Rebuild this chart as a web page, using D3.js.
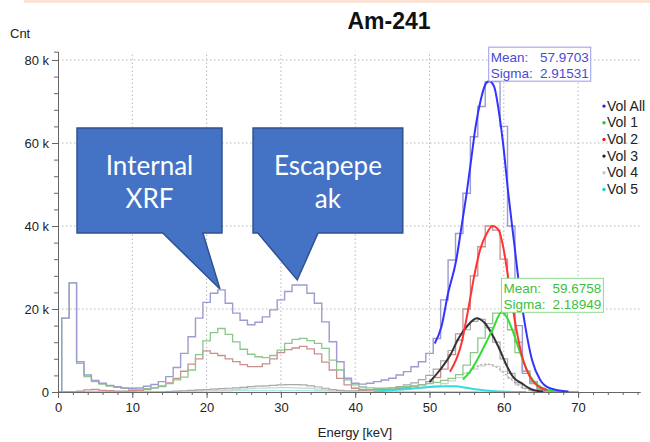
<!DOCTYPE html>
<html>
<head>
<meta charset="utf-8">
<script src="https://cdn.jsdelivr.net/npm/d3@7"></script>
<style>
  body { margin: 0; background: #fff; }
  svg { display: block; font-family: "Liberation Sans", Arial, sans-serif; }
</style>
</head>
<body>
<div class="chart"></div>
<script>
const width = 650;
const height = 442;

// bin centres in keV (1 keV bins), counts in thousands
const binCenters = d3.range(0, 71);

const volAllHist = [0, 17.8, 26.3, 7.3, 4.1, 2.8, 2.1, 1.6, 1.3, 1.0,
  0.9, 1.0, 1.4, 1.8, 2.5, 3.7, 5.9, 9.3, 13.3, 17.8,
  21.6, 23.8, 24.6, 21.4, 19.0, 17.3, 16.2, 16.8, 18.1, 19.8,
  22.2, 24.2, 25.8, 25.8, 23.8, 21.4, 16.9, 12.1, 7.3, 3.3,
  2.1, 1.9, 2.1, 2.5, 2.9, 3.3, 4.1, 4.9, 6.1, 7.3,
  9.3, 12.9, 22.2, 31.8, 38.2, 47.9, 61.5, 68.8, 74.8, 74.8,
  64.0, 40.0, 16.0, 4.5, 2.5, 0.5, 0.2, 0.1, 0, 0, 0];

const vol1Hist = [0, 17.8, 26.3, 6.9, 3.7, 2.5, 1.9, 1.4, 1.1, 0.9,
  0.7, 0.7, 0.8, 1.0, 1.3, 2.0, 2.9, 3.6, 5.3, 9.0,
  12.3, 14.3, 15.3, 13.9, 12.1, 10.3, 9.1, 8.5, 8.3, 8.8,
  10.1, 11.7, 12.7, 12.9, 12.4, 11.7, 10.5, 7.7, 5.3, 2.9,
  1.7, 1.2, 1.0, 0.9, 0.9, 1.0, 1.1, 1.3, 1.5, 1.7,
  2.0, 2.3, 2.8, 3.3, 4.2, 6.5, 9.5, 13.0, 16.5, 19.0,
  19.0, 15.0, 9.5, 5.0, 2.2, 0.9, 0.3, 0.1, 0, 0, 0];

const vol2Hist = [0, 0, 0, 0.2, 0.5, 0.6, 0.4, 0.3, 0.2, 0.2,
  0.3, 0.4, 0.6, 1.0, 1.5, 2.2, 3.3, 5.0, 6.7, 8.0,
  9.9, 9.3, 8.8, 8.0, 7.3, 6.6, 6.1, 6.1, 6.8, 8.0,
  9.5, 10.2, 10.6, 11.0, 10.4, 9.2, 7.2, 5.3, 3.3, 1.7,
  0.9, 0.6, 0.5, 0.5, 0.6, 0.7, 0.9, 1.1, 1.4, 1.8,
  2.5, 3.5, 5.5, 9.0, 14.0, 20.0, 28.0, 35.0, 40.0, 39.0,
  32.0, 22.0, 12.0, 5.0, 2.0, 0.7, 0.2, 0, 0, 0, 0];

const vol3Hist = [0, 0, 0, 0, 0, 0, 0, 0, 0, 0,
  0, 0, 0, 0, 0, 0.1, 0.2, 0.3, 0.4, 0.5,
  0.6, 0.7, 0.8, 0.9, 1.0, 1.1, 1.3, 1.4, 1.5, 1.6,
  1.7, 1.8, 1.8, 1.7, 1.5, 1.2, 0.9, 0.6, 0.4, 0.3,
  0.3, 0.4, 0.5, 0.6, 0.8, 1.0, 1.3, 1.7, 2.2, 3.0,
  4.0, 5.5, 7.5, 10.0, 12.5, 15.0, 17.0, 17.5, 15.5, 12.0,
  8.0, 4.5, 2.2, 0.9, 0.3, 0.1, 0, 0, 0, 0, 0];

const vol4Hist = [0, 0, 0, 0, 0, 0, 0, 0, 0, 0,
  0, 0, 0, 0, 0, 0, 0, 0, 0.2, 0.25,
  0.3, 0.35, 0.4, 0.5, 0.6, 0.7, 0.8, 0.9, 0.95, 1.0,
  1.05, 1.05, 1.0, 0.95, 0.85, 0.7, 0.5, 0.35, 0.25, 0.2,
  0.2, 0.2, 0.25, 0.3, 0.35, 0.4, 0.5, 0.6, 0.8, 1.0,
  1.2, 1.5, 2.0, 2.7, 3.5, 4.5, 5.5, 6.3, 6.6, 6.2,
  5.0, 3.3, 1.8, 0.9, 0.4, 0.1, 0, 0, 0, 0, 0];

const vol5Hist = [0, 0, 0, 0, 0, 0, 0, 0, 0, 0,
  0, 0, 0.05, 0.1, 0.1, 0.15, 0.15, 0.2, 0.2, 0.2,
  0.25, 0.25, 0.25, 0.25, 0.3, 0.3, 0.3, 0.3, 0.3, 0.3,
  0.3, 0.3, 0.3, 0.3, 0.3, 0.25, 0.25, 0.2, 0.2, 0.15,
  0.15, 0.1, 0.1, 0.1, 0.1, 0.1, 0.1, 0.1, 0.1, 0.1,
  0.1, 0.1, 0.1, 0.1, 0.1, 0.1, 0.1, 0.05, 0.05, 0.05,
  0, 0, 0, 0, 0, 0, 0, 0, 0, 0, 0];

// fitted curves, points (keV, thousands)
const fitAllE = [50.7, 51.6, 52.5, 53.6, 54.3, 55.0, 55.6, 56.2, 56.9, 57.6, 58.06, 58.7, 59.3, 59.9, 60.6, 61.4, 62.2, 62.9, 63.8, 64.9, 66.2, 68.7];
const fitAllV = [11.7, 15.7, 23.8, 31.8, 39.8, 47.9, 55.9, 63.9, 70.4, 74.4, 74.9, 73.6, 68.0, 59.9, 47.9, 35.8, 23.8, 15.7, 7.7, 2.9, 0.9, 0.1];

const fit1E = [54.5, 55.5, 56.5, 57.5, 58.6, 59.7, 60.4, 61.3, 62.2, 63.1, 64.0, 65.3, 66.7, 68.0];
const fit1V = [3.0, 5.0, 8.0, 11.5, 15.5, 19.2, 18.0, 14.2, 9.5, 5.4, 2.6, 0.9, 0.2, 0.0];

const fit2E = [52.75, 54.3, 55.2, 56.0, 56.8, 57.7, 58.5, 59.3, 60.0, 60.8, 61.6, 62.6, 63.5, 64.4, 65.8];
const fit2V = [4.9, 11.7, 19.8, 27.8, 34.2, 38.2, 40.0, 39.0, 34.2, 25.0, 16.0, 7.7, 3.7, 1.7, 0.5];

const fit3E = [50.0, 51.4, 52.8, 53.9, 55.0, 56.35, 57.5, 58.6, 59.5, 60.4, 61.3, 62.4, 63.8, 65.3];
const fit3V = [2.4, 5.3, 8.9, 12.9, 15.7, 17.8, 16.5, 13.3, 10.0, 6.3, 3.5, 2.1, 0.6, 0.1];

const fit4E = [55.0, 56.0, 57.0, 58.0, 59.0, 60.0, 61.0, 62.0, 63.0, 64.0];
const fit4V = [4.5, 5.8, 6.6, 6.7, 6.0, 4.6, 3.0, 1.6, 0.7, 0.2];

const fit5E = [42.5, 44, 46, 48, 50, 52, 53.5, 55, 56.5, 58, 59.5, 61, 63];
const fit5V = [0.05, 0.3, 0.6, 0.9, 1.2, 1.4, 1.4, 1.0, 0.6, 0.3, 0.1, 0.03, 0];

const legendLabels = ['Vol All', 'Vol 1', 'Vol 2', 'Vol 3', 'Vol 4', 'Vol 5'];
const legendColors = ['#2222ee', '#22cc22', '#ee2222', '#222222', '#c8c8c8', '#22cccc'];

const statMeans = [57.9703, 59.6758];
const statSigmas = [2.91531, 2.18949];

const yMajorTicks = [0, 20, 40, 60, 80];
const xMajorTicks = [0, 10, 20, 30, 40, 50, 60, 70];

const svg = d3.select('.chart')
  .append('svg')
  .attr('width', width)
  .attr('height', height);

const x = d3.scaleLinear().domain([0, 78.33]).range([58, 640]);
const y = d3.scaleLinear().domain([0, 82]).range([392, 51.7]);

// thin band at the very top (slide frame)
svg.append('rect')
  .attr('x', 24).attr('y', 0)
  .attr('width', width - 24).attr('height', 3)
  .attr('fill', '#fbe3d5');

svg.append('text')
  .attr('x', 389).attr('y', 29)
  .attr('text-anchor', 'middle')
  .style('font-size', '23px')
  .style('font-weight', 'bold')
  .attr('fill', '#111')
  .text('Am-241');

svg.append('text')
  .attr('x', 10).attr('y', 38)
  .style('font-size', '13px')
  .attr('fill', '#222')
  .text('Cnt');

// grid
const grid = svg.append('g').attr('class', 'grid');
yMajorTicks.filter(d => d > 0).forEach(d => {
  grid.append('line')
    .attr('x1', x(0)).attr('x2', x(78.33))
    .attr('y1', y(d)).attr('y2', y(d))
    .attr('stroke', '#b8b8b8')
    .attr('stroke-dasharray', '1.5,2.5');
});
xMajorTicks.filter(d => d > 0).forEach(d => {
  grid.append('line')
    .attr('x1', x(d)).attr('x2', x(d))
    .attr('y1', y(0)).attr('y2', y(82))
    .attr('stroke', '#b8b8b8')
    .attr('stroke-dasharray', '1.5,2.5');
});

// histograms
const histLine = d3.line()
  .x(d => x(d[0]))
  .y(d => y(d[1]))
  .curve(d3.curveStep);

const hists = [
  { vals: vol5Hist, color: '#9fe0e0', w: 1.2 },
  { vals: vol4Hist, color: '#d2d2d2', w: 1.2 },
  { vals: vol3Hist, color: '#a8a8a8', w: 1.2 },
  { vals: vol2Hist, color: '#c99090', w: 1.3 },
  { vals: vol1Hist, color: '#8cc88c', w: 1.3 },
  { vals: volAllHist, color: '#9c9cd0', w: 1.4 }
];

hists.forEach(h => {
  svg.append('path')
    .datum(binCenters.map((e, i) => [e, h.vals[i]]))
    .attr('d', histLine)
    .attr('fill', 'none')
    .attr('stroke', h.color)
    .attr('stroke-width', h.w);
});

// fits
const fitLine = d3.line()
  .x(d => x(d[0]))
  .y(d => y(d[1]))
  .curve(d3.curveMonotoneX);

const fits = [
  { e: fit5E, v: fit5V, color: '#33dddd', w: 2, dash: null },
  { e: fit4E, v: fit4V, color: '#b0b0b0', w: 1.3, dash: '2,2' },
  { e: fit3E, v: fit3V, color: '#333333', w: 2, dash: null },
  { e: fit1E, v: fit1V, color: '#33dd33', w: 2, dash: null },
  { e: fit2E, v: fit2V, color: '#ff3333', w: 2, dash: null },
  { e: fitAllE, v: fitAllV, color: '#3333ff', w: 2, dash: null }
];

fits.forEach(f => {
  svg.append('path')
    .datum(f.e.map((e, i) => [e, f.v[i]]))
    .attr('d', fitLine)
    .attr('fill', 'none')
    .attr('stroke', f.color)
    .attr('stroke-width', f.w)
    .attr('stroke-dasharray', f.dash);
});

// axes
const yAxis = svg.append('g')
  .attr('transform', `translate(${x(0)},0)`)
  .call(d3.axisLeft(y)
    .tickValues(yMajorTicks)
    .tickFormat(d => d ? `${d} k` : '0')
    .tickSize(6)
    .tickSizeOuter(0)
    .tickPadding(3));

svg.append('g')
  .attr('transform', `translate(${x(0)},0)`)
  .call(d3.axisLeft(y)
    .tickValues(d3.range(0, 82, 4))
    .tickFormat('')
    .tickSize(4)
    .tickSizeOuter(4));

const xAxis = svg.append('g')
  .attr('transform', `translate(0,${y(0)})`)
  .call(d3.axisBottom(x)
    .tickValues(xMajorTicks)
    .tickSize(6)
    .tickSizeOuter(0)
    .tickPadding(5));

svg.append('g')
  .attr('transform', `translate(0,${y(0)})`)
  .call(d3.axisBottom(x)
    .tickValues(d3.range(0, 79, 2))
    .tickFormat('')
    .tickSize(3)
    .tickSizeOuter(0));

svg.selectAll('.domain, .tick line').attr('stroke', '#666');
[yAxis, xAxis].forEach(a => a.selectAll('text')
  .style('font-size', '13px')
  .style('font-family', '"Liberation Sans", Arial, sans-serif')
  .attr('fill', '#222'));

svg.append('text')
  .attr('x', 355).attr('y', 437)
  .attr('text-anchor', 'middle')
  .style('font-size', '13px')
  .attr('fill', '#222')
  .text('Energy [keV]');

// fit statistic boxes, anchored at the mean, bottom at fit peak
const stats = [
  { mean: statMeans[0], sigma: statSigmas[0], peak: d3.max(fitAllV), color: '#4a4ad8', stroke: '#9a9aee' },
  { mean: statMeans[1], sigma: statSigmas[1], peak: d3.max(fit1V), color: '#3cbf3c', stroke: '#8edc8e' }
];

stats.forEach(s => {
  const bx = x(s.mean);
  const bw = 102, bh = 34;
  const by = y(s.peak) - bh;
  const g = svg.append('g');
  g.append('rect')
    .attr('x', bx).attr('y', by)
    .attr('width', bw).attr('height', bh)
    .attr('fill', '#fff')
    .attr('stroke', s.stroke)
    .attr('stroke-width', 1);
  [['Mean:', s.mean.toFixed(4)], ['Sigma:', s.sigma.toFixed(5)]].forEach((row, i) => {
    g.append('text')
      .attr('x', bx + 2).attr('y', by + 15 + i * 16)
      .style('font-size', '13.5px')
      .attr('fill', s.color)
      .text(row[0]);
    g.append('text')
      .attr('x', bx + bw - 2).attr('y', by + 15 + i * 16)
      .attr('text-anchor', 'end')
      .style('font-size', '13.5px')
      .attr('fill', s.color)
      .text(row[1]);
  });
});

// legend
const legend = svg.append('g');
legendLabels.forEach((label, i) => {
  const ly = 110.6 + i * 16.67;
  legend.append('circle')
    .attr('cx', 604).attr('cy', ly - 4.5)
    .attr('r', 1.7)
    .attr('fill', legendColors[i]);
  legend.append('text')
    .attr('x', 607).attr('y', ly)
    .style('font-size', '14px')
    .attr('fill', '#222')
    .text(label);
});

// callouts (positions in data units)
const callouts = [
  { lines: ['Internal', 'XRF'], e0: 2.56, e1: 22.07, vTop: 63.6, vBot: 38.3, base0: 14.1, base1: 19.5, tipE: 21.8, tipV: 24.8 },
  { lines: ['Escapepe', 'ak'], e0: 26.25, e1: 46.4, vTop: 63.6, vBot: 38.3, base0: 26.9, base1: 35.0, tipE: 32.2, tipV: 27.0 }
];

callouts.forEach(c => {
  const p = d3.path();
  p.moveTo(x(c.e0), y(c.vTop));
  p.lineTo(x(c.e1), y(c.vTop));
  p.lineTo(x(c.e1), y(c.vBot));
  p.lineTo(x(c.base1), y(c.vBot));
  p.lineTo(x(c.tipE), y(c.tipV));
  p.lineTo(x(c.base0), y(c.vBot));
  p.lineTo(x(c.e0), y(c.vBot));
  p.closePath();
  svg.append('path')
    .attr('d', p.toString())
    .attr('fill', '#4472c4')
    .attr('stroke', '#2f528f')
    .attr('stroke-width', 1.5)
    .attr('stroke-linejoin', 'miter');
  const cx = (x(c.e0) + x(c.e1)) / 2;
  c.lines.forEach((t, i) => {
    svg.append('text')
      .attr('x', cx).attr('y', 175 + i * 33)
      .attr('text-anchor', 'middle')
      .style('font-family', 'Lato, "Open Sans", sans-serif')
      .style('font-size', '26px')
      .attr('fill', '#fff')
      .text(t);
  });
});
</script>
</body>
</html>
